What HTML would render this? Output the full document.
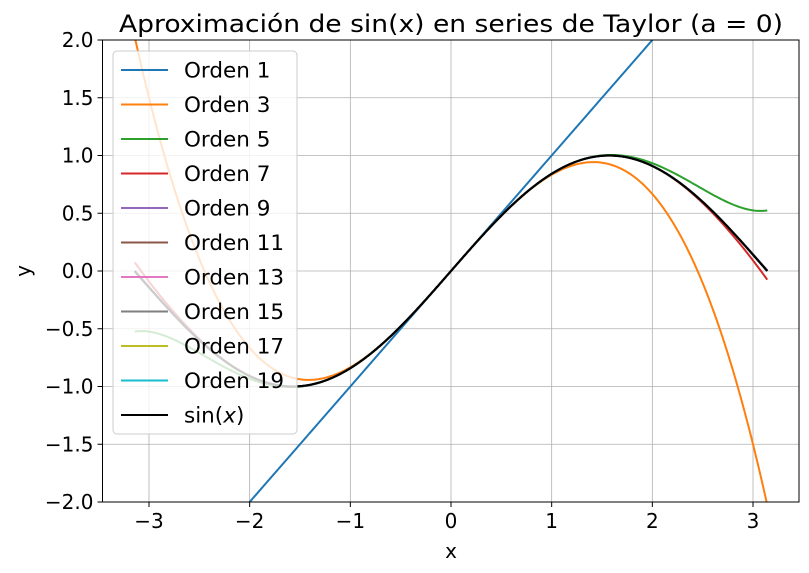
<!DOCTYPE html>
<html><head><meta charset="utf-8"><style>
html,body{margin:0;padding:0;background:#fff;overflow:hidden;width:809px;height:573px}
svg{display:block;font-family:"DejaVu Sans","Liberation Sans",sans-serif}
</style></head><body>
<svg id="chart" width="809" height="573">
<g id="grid"></g>
<g id="plot"></g>
<g id="axes"></g>
<g id="legend"></g>
<text x="451" y="32" font-size="24" text-anchor="middle" textLength="664" lengthAdjust="spacingAndGlyphs">Aproximación de sin(x) en series de Taylor (a = 0)</text>
<text x="451" y="558" font-size="20" text-anchor="middle">x</text>
<text x="30" y="271" font-size="20" text-anchor="middle" transform="rotate(-90 30 271)">y</text>
</svg>
<script>
const orders=[1,3,5,7,9,11,13,15,17,19];
const colors=["#1f77b4","#ff7f0e","#2ca02c","#d62728","#9467bd","#8c564b","#e377c2","#7f7f7f","#bcbd22","#17becf"];
const xTicks=[-3,-2,-1,0,1,2,3];
const yTicks=[-2,-1.5,-1,-0.5,0,0.5,1,1.5,2];
const yTickLabels=["−2.0","−1.5","−1.0","−0.5","0.0","0.5","1.0","1.5","2.0"];
const xTickLabels=["−3","−2","−1","0","1","2","3"];
const L=102.5,R=799,T=40,B=502;
const ymin=-2,ymax=2;
const sx=x=>451+x*100.67;
const sy=y=>B-(y-ymin)/(ymax-ymin)*(B-T);
const NS="http://www.w3.org/2000/svg";
function mk(t,a,p){const e=document.createElementNS(NS,t);for(const k in a)e.setAttribute(k,a[k]);p.appendChild(e);return e;}
const grid=document.getElementById('grid'),plot=document.getElementById('plot'),axes=document.getElementById('axes'),leg=document.getElementById('legend');
const svg=document.getElementById('chart');
const defs=mk('defs',{},svg);const cp=mk('clipPath',{id:'c'},defs);mk('rect',{x:L,y:T,width:R-L,height:B-T},cp);
plot.setAttribute('clip-path','url(#c)');
xTicks.forEach((v,i)=>{const g=mk('line',{x1:sx(v),x2:sx(v),y1:T,y2:B,stroke:'#b0b0b0','stroke-width':0.8},grid);

mk('line',{x1:sx(v),x2:sx(v),y1:B,y2:B+5,stroke:'#000'},axes);
const tx=mk('text',{x:sx(v),y:B+26,'font-size':20,'text-anchor':'middle'},axes);tx.textContent=xTickLabels[i];
});
yTicks.forEach((v,i)=>{const g=mk('line',{x1:L,x2:R,y1:sy(v),y2:sy(v),stroke:'#b0b0b0','stroke-width':0.8},grid);

mk('line',{x1:L-5,x2:L,y1:sy(v),y2:sy(v),stroke:'#000'},axes);
const tx=mk('text',{x:L-9,y:sy(v)+7,'font-size':20,'text-anchor':'end'},axes);tx.textContent=yTickLabels[i];
});
const frame=mk('rect',{x:L,y:T,width:R-L,height:B-T,fill:'none',stroke:'#000','stroke-width':1},axes);

function taylor(x,n){let s=0,term=x;for(let p=1;p<=n;p+=2){s+=term;term*=-x*x/((p+1)*(p+2));}return s;}
const N=400;
function path(f){let d='';for(let i=0;i<=N;i++){const x=-Math.PI+2*Math.PI*i/N;let y=f(x);y=Math.max(-3,Math.min(3,y));d+=(i?'L':'M')+sx(x).toFixed(2)+','+sy(y).toFixed(2);}return d;}
orders.forEach((o,i)=>{const p=mk('path',{d:path(x=>taylor(x,o)),fill:'none',stroke:colors[i],'stroke-width':2},plot);
});
const sp=mk('path',{d:path(Math.sin),fill:'none',stroke:'#000','stroke-width':2.2},plot);

const box=mk('rect',{x:113,y:51,width:184,height:383,rx:4,fill:'#fff','fill-opacity':0.8,stroke:'#ccc'},leg);

const labels=orders.map(o=>'Orden '+o);
labels.push('sin');
labels.forEach((lb,i)=>{const y=70+i*34.5;const c=i<orders.length?colors[i]:'#000';
const g=mk('g',{},leg);
mk('line',{x1:121,x2:168,y1:y,y2:y,stroke:c,'stroke-width':2},g);
const t=mk('text',{x:184,y:y+7.5,'font-size':21.5},g);
if(i<orders.length)t.textContent=lb;else{t.innerHTML='sin(<tspan font-style="italic">x</tspan>)';}});
</script>
</body></html>
